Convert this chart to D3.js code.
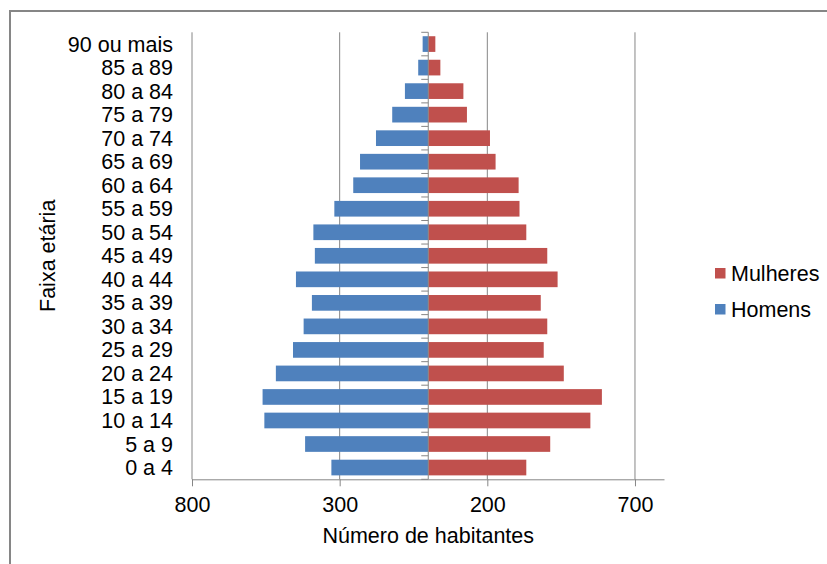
<!DOCTYPE html>
<html>
<head>
<meta charset="utf-8">
<script src="https://cdn.jsdelivr.net/npm/d3@7"></script>
<style>
  html, body { margin: 0; padding: 0; background: #fff; }
  svg { display: block; font-family: "Liberation Sans", Arial, sans-serif; }
</style>
</head>
<body>
<svg id="chart" width="827" height="564"></svg>
<script>
const categories = ["0 a 4","5 a 9","10 a 14","15 a 19","20 a 24","25 a 29","30 a 34","35 a 39","40 a 44","45 a 49","50 a 54","55 a 59","60 a 64","65 a 69","70 a 74","75 a 79","80 a 84","85 a 89","90 ou mais"];
const homens   = [328, 417, 555, 561, 516, 458, 422, 394, 448, 384, 389, 318, 254, 231, 177, 122, 79, 34, 19];
const mulheres = [332, 413, 549, 588, 459, 391, 403, 381, 438, 403, 332, 309, 306, 228, 209, 131, 119, 41, 24];
const xTicks = [-800, -300, 200, 700];
const xDomain = [-800, 800];
const seriesNames = ["Mulheres", "Homens"];
const seriesColors = ["#C0504D", "#4F81BD"];

(function () {
const svg = d3.select("#chart");
const pLeft = 192, pRight = 664.5, pTop = 32.3, pBottom = 479.3;
const axisColor = "#868686";
const fontSize = 21.5;

// outer frame
svg.append("rect").attr("x", 10).attr("y", 11).attr("width", 830).attr("height", 570)
  .attr("fill", "none").attr("stroke", axisColor).attr("stroke-width", 2);

const x = d3.scaleLinear().domain(xDomain).range([pLeft, pRight]);
const y = d3.scaleBand().domain(categories.slice().reverse()).range([pTop, pBottom])
  .paddingInner(1/3).paddingOuter(1/6);

// gridlines
svg.append("g").selectAll("line").data(xTicks).join("line")
  .attr("x1", d => x(d)).attr("x2", d => x(d))
  .attr("y1", pTop).attr("y2", pBottom)
  .attr("stroke", axisColor).attr("stroke-width", 1);

// bars
const data = categories.map((c, i) => ({c, h: homens[i], m: mulheres[i]}));
svg.append("g").selectAll("rect").data(data).join("rect")
  .attr("x", d => x(-d.h)).attr("width", d => x(0) - x(-d.h))
  .attr("y", d => y(d.c)).attr("height", y.bandwidth())
  .attr("fill", seriesColors[1]);
svg.append("g").selectAll("rect").data(data).join("rect")
  .attr("x", x(0)).attr("width", d => x(d.m) - x(0))
  .attr("y", d => y(d.c)).attr("height", y.bandwidth())
  .attr("fill", seriesColors[0]);

// x axis
const xAxis = d3.axisBottom(x).tickValues(xTicks).tickFormat(d => Math.abs(d)).tickSize(7).tickPadding(10);
const gx = svg.append("g").attr("transform", `translate(0,${pBottom})`).call(xAxis);
gx.select(".domain").attr("stroke", axisColor).attr("d", `M${pLeft},0.5H${pRight}`);
gx.selectAll(".tick line").attr("stroke", axisColor);
gx.selectAll(".tick text").attr("font-size", fontSize).attr("fill", "#000")
  .attr("font-family", "Liberation Sans, Arial, sans-serif");

// center category axis
const step = y.step();
const bounds = d3.range(categories.length + 1).map(i => pTop + i * step);
svg.append("line").attr("x1", x(0)).attr("x2", x(0)).attr("y1", pTop).attr("y2", pBottom)
  .attr("stroke", axisColor).attr("stroke-width", 1);
svg.append("g").selectAll("line").data(bounds).join("line")
  .attr("x1", x(0) - 7).attr("x2", x(0)).attr("y1", d => d).attr("y2", d => d)
  .attr("stroke", axisColor).attr("stroke-width", 1);

// category labels
svg.append("g").selectAll("text").data(categories).join("text")
  .attr("x", 173).attr("y", d => y(d) + y.bandwidth() / 2)
  .attr("dy", "0.35em").attr("text-anchor", "end")
  .attr("font-size", fontSize).attr("fill", "#000").text(d => d);

// axis titles
svg.append("text").attr("x", (pLeft + pRight) / 2).attr("y", 543)
  .attr("text-anchor", "middle").attr("font-size", fontSize).attr("fill", "#000")
  .text("Número de habitantes");
svg.append("text").attr("transform", `translate(55,${(pTop + pBottom) / 2}) rotate(-90)`)
  .attr("text-anchor", "middle").attr("font-size", fontSize).attr("fill", "#000")
  .text("Faixa etária");

// legend
const legend = svg.append("g").selectAll("g").data(seriesNames).join("g")
  .attr("transform", (d, i) => `translate(715,${268 + i * 36})`);
legend.append("rect").attr("width", 10.5).attr("height", 10.5)
  .attr("fill", (d, i) => seriesColors[i]);
legend.append("text").attr("x", 16).attr("y", 5.5).attr("dy", "0.35em")
  .attr("font-size", fontSize).attr("fill", "#000").text(d => d);
})();
</script>
</body>
</html>
